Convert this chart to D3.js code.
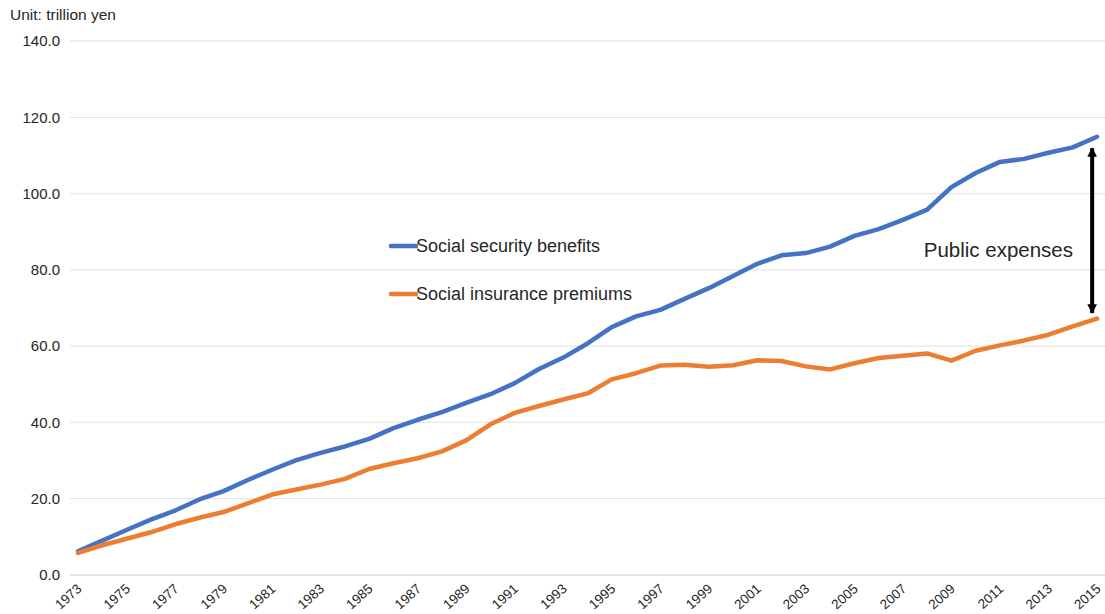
<!DOCTYPE html>
<html>
<head>
<meta charset="utf-8">
<script src="https://cdn.jsdelivr.net/npm/d3@7"></script>
<style>
  body { margin: 0; background: #fff; }
  svg text { font-family: "Liberation Sans", Arial, sans-serif; fill: #262626; }
</style>
</head>
<body>
<svg id="chart" width="1105" height="614"></svg>
<script>
let years = d3.range(1973, 2016);
let benefits = [6.2, 9.0, 11.8, 14.5, 16.9, 19.8, 22.0, 24.9, 27.6, 30.1,
    32.0, 33.7, 35.7, 38.5, 40.7, 42.7, 45.1, 47.4, 50.3, 54.0,
    57.0, 60.7, 65.0, 67.8, 69.5, 72.4, 75.2, 78.4, 81.6, 83.8,
    84.4, 86.1, 88.9, 90.7, 93.1, 95.8, 101.7, 105.4, 108.3, 109.1,
    110.7, 112.1, 114.9];
let premiums = [5.8, 7.8, 9.5, 11.2, 13.3, 15.0, 16.5, 18.8, 21.1, 22.4,
    23.7, 25.2, 27.8, 29.3, 30.6, 32.4, 35.3, 39.5, 42.5, 44.3,
    46.0, 47.6, 51.3, 52.9, 54.9, 55.1, 54.6, 55.0, 56.3, 56.1,
    54.7, 53.9, 55.5, 56.9, 57.5, 58.1, 56.2, 58.8, 60.2, 61.5,
    63.0, 65.2, 67.2];
let yTicks = [0, 20, 40, 60, 80, 100, 120, 140];
let xTickYears = years.filter((y) => (y - 1973) % 2 === 0);

let svg = d3.select("#chart");
let xScale = d3.scaleLinear().domain([1973, 2015]).range([78, 1097]),
    yScale = d3.scaleLinear().domain([0, 140]).range([575, 41]);

// gridlines
svg.append("g")
    .selectAll("line")
    .data(yTicks)
    .join("line")
    .attr("x1", 70)
    .attr("x2", 1105)
    .attr("y1", (d) => yScale(d))
    .attr("y2", (d) => yScale(d))
    .attr("stroke", (d) => d === 0 ? "#d9d9d9" : "#e6e6e6")
    .attr("stroke-width", 1.3);

// y labels
let yAxis = svg.append("g")
    .attr("transform", "translate(60,0)")
    .call(d3.axisLeft(yScale).tickValues(yTicks).tickFormat(d3.format(".1f")).tickSize(0).tickPadding(0));
yAxis.select(".domain").remove();
yAxis.selectAll("text")
    .attr("font-size", "15px")
    .attr("font-family", "Liberation Sans, Arial, sans-serif")
    .attr("fill", "#262626");

// x labels
let xAxis = svg.append("g")
    .attr("transform", "translate(0,575)")
    .call(d3.axisBottom(xScale).tickValues(xTickYears).tickFormat(d3.format("d")).tickSize(0));
xAxis.select(".domain").remove();
xAxis.selectAll("text")
    .attr("font-size", "13.5px")
    .attr("font-family", "Liberation Sans, Arial, sans-serif")
    .attr("fill", "#262626")
    .attr("text-anchor", "end")
    .attr("dy", null)
    .attr("y", 0)
    .attr("transform", "translate(4,15) rotate(-42)");

svg.append("text")
    .attr("x", 10)
    .attr("y", 20)
    .attr("font-size", "15.5px")
    .text("Unit: trillion yen");

// lines
let series = [
    { name: "Social security benefits", values: benefits, color: "#4472C4" },
    { name: "Social insurance premiums", values: premiums, color: "#ED7D31" }
];
let lnMkr = d3.line()
    .x((d, i) => xScale(years[i]))
    .y((d) => yScale(d));

svg.append("g")
    .selectAll("path")
    .data(series)
    .join("path")
    .attr("fill", "none")
    .attr("stroke", (d) => d.color)
    .attr("stroke-width", 4.5)
    .attr("stroke-linejoin", "round")
    .attr("stroke-linecap", "round")
    .attr("d", (d) => lnMkr(d.values));

// legend
let legend = svg.append("g")
    .selectAll("g")
    .data(series)
    .join("g")
    .attr("transform", (d, i) => "translate(391," + (246 + i * 48) + ")");
legend.append("line")
    .attr("x1", 0)
    .attr("x2", 25)
    .attr("stroke", (d) => d.color)
    .attr("stroke-width", 4.5)
    .attr("stroke-linecap", "round");
legend.append("text")
    .attr("x", 25)
    .attr("y", 6)
    .attr("font-size", "18px")
    .text((d) => d.name);

// public expenses arrow
let defs = svg.append("defs");
defs.append("marker")
    .attr("id", "head")
    .attr("viewBox", "0 0 10 10")
    .attr("refX", 9)
    .attr("refY", 5)
    .attr("markerWidth", 2.4)
    .attr("markerHeight", 2.4)
    .attr("orient", "auto-start-reverse")
    .append("path")
    .attr("d", "M0,0 L10,5 L0,10 Z")
    .attr("fill", "#000");

let arrowX = xScale(2014.8);
svg.append("line")
    .attr("x1", arrowX)
    .attr("x2", arrowX)
    .attr("y1", yScale(111.9))
    .attr("y2", yScale(68.7))
    .attr("stroke", "#000")
    .attr("stroke-width", 4)
    .attr("marker-start", "url(#head)")
    .attr("marker-end", "url(#head)");

svg.append("text")
    .attr("x", 1073)
    .attr("y", 257)
    .attr("text-anchor", "end")
    .attr("font-size", "20.5px")
    .attr("fill", "#000")
    .text("Public expenses");
</script>
</body>
</html>
